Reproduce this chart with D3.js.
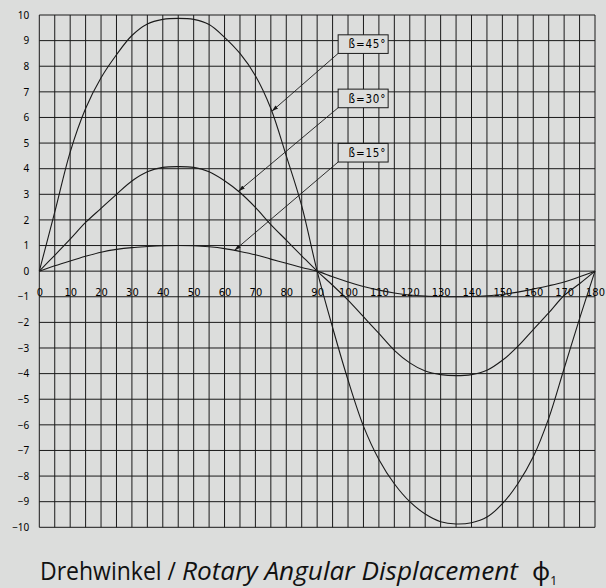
<!DOCTYPE html>
<html>
<head>
<meta charset="utf-8">
<script src="https://cdn.jsdelivr.net/npm/d3@7"></script>
<style>
  html, body { margin: 0; padding: 0; background: #dcdddc; }
  svg { display: block; }
</style>
</head>
<body>
<svg id="chart" width="606" height="588"></svg>
<script>
// Angular displacement error of a cardan joint for three bend angles ß
const angles = [0, 5, 10, 15, 20, 25, 30, 35, 40, 45, 50, 55, 60, 65, 70, 75, 80, 85, 90,
  95, 100, 105, 110, 115, 120, 125, 130, 135, 140, 145, 150, 155, 160, 165, 170, 175, 180];

const beta45 = [0, 2.3, 4.65, 6.35, 7.55, 8.45, 9.2, 9.65, 9.83, 9.87, 9.83, 9.63, 9.13, 8.5, 7.63, 6.35, 4.5, 2.55, 0,
  -2.2, -4.25, -6.05, -7.35, -8.3, -9.0, -9.48, -9.78, -9.87, -9.82, -9.6, -9.08, -8.3, -7.25, -5.75, -3.8, -1.85, 0];

const beta30 = [0, 0.62, 1.25, 1.9, 2.45, 3.0, 3.52, 3.88, 4.05, 4.08, 4.05, 3.88, 3.53, 3.07, 2.49, 1.82, 1.21, 0.6, 0,
  -0.55, -1.13, -1.78, -2.43, -3.09, -3.58, -3.9, -4.04, -4.08, -4.04, -3.87, -3.48, -2.94, -2.28, -1.63, -0.95, -0.49, 0];

const beta15 = [0, 0.21, 0.4, 0.58, 0.74, 0.85, 0.92, 0.96, 0.99, 1.0, 0.99, 0.95, 0.88, 0.77, 0.64, 0.47, 0.31, 0.14, 0,
  -0.22, -0.42, -0.6, -0.74, -0.85, -0.93, -0.97, -0.99, -1.0, -0.99, -0.96, -0.91, -0.82, -0.7, -0.57, -0.42, -0.22, 0];

const seriesNames = ["ß=45°", "ß=30°", "ß=15°"];
const seriesValues = [beta45, beta30, beta15];
// where each leader arrow meets its curve (angle) and where its label box sits (angle, value of box bottom)
const arrowAngles = [75.3, 64.5, 63.2];
const boxAngle = 96.8;
const boxValues = [8.5, 6.38, 4.26];

const xTicks = d3.range(0, 181, 10);
const yTicks = d3.range(-10, 11, 1);

const bg = "#dcdddc";
const ink = "#1a1a1a";

const svg = d3.select("#chart");
svg.append("rect").attr("width", 606).attr("height", 588).attr("fill", bg);

const x = d3.scaleLinear().domain([0, 180]).range([39.3, 595]);
const y = d3.scaleLinear().domain([-10, 10]).range([527.3, 15]);

// grid: every 5° vertically, every unit horizontally
const grid = svg.append("g").attr("stroke", ink).attr("stroke-width", 1);
grid.selectAll("line.v").data(d3.range(0, 181, 5)).join("line")
  .attr("class", "v")
  .attr("x1", d => x(d)).attr("x2", d => x(d))
  .attr("y1", y(10)).attr("y2", y(-10));
grid.selectAll("line.h").data(yTicks).join("line")
  .attr("class", "h")
  .attr("x1", x(0)).attr("x2", x(180))
  .attr("y1", d => y(d)).attr("y2", d => y(d));

// y-axis labels
const yAxis = d3.axisLeft(y).tickValues(yTicks).tickSize(0).tickPadding(10)
  .tickFormat(d => d < 0 ? "\u2212" + Math.abs(d) : String(d));
svg.append("g").attr("transform", `translate(${x(0)},0)`).call(yAxis)
  .call(g => g.select(".domain").remove())
  .call(g => g.selectAll("text")
    .attr("font-family", "'Noto Sans', 'Open Sans', sans-serif")
    .attr("font-size", 10).attr("fill", "#000"));

// x-axis labels sit just below the zero line
const xAxis = d3.axisBottom(x).tickValues(xTicks).tickSize(0).tickPadding(0).tickFormat(d3.format("d"));
svg.append("g").attr("transform", `translate(0,${y(0)})`).call(xAxis)
  .call(g => g.select(".domain").remove())
  .call(g => g.selectAll("text")
    .attr("dy", null).attr("y", 24.5)
    .attr("font-family", "'DejaVu Sans Condensed', 'DejaVu Sans', sans-serif")
    .attr("font-stretch", "condensed")
    .attr("font-size", 11).attr("fill", "#000"));

// curves
const line = d3.line()
  .x((d, i) => x(angles[i]))
  .y(d => y(d))
  .curve(d3.curveCatmullRom.alpha(0.5));

svg.append("g").selectAll("path.curve").data(seriesValues).join("path")
  .attr("class", "curve")
  .attr("d", d => line(d))
  .attr("fill", "none")
  .attr("stroke", ink)
  .attr("stroke-width", 1.1);

// arrowhead marker
svg.append("defs").append("marker")
  .attr("id", "arrow")
  .attr("viewBox", "0 0 10 6")
  .attr("refX", 10).attr("refY", 3)
  .attr("markerWidth", 7).attr("markerHeight", 4)
  .attr("markerUnits", "userSpaceOnUse")
  .attr("orient", "auto")
  .append("path").attr("d", "M0,0 L10,3 L0,6 Z").attr("fill", ink);

function valueAt(values, a) {
  return d3.scaleLinear().domain(angles).range(values)(a);
}

// label boxes with leader arrows
const boxW = 50, boxH = 18.6;
const notes = svg.append("g");
seriesNames.forEach((name, i) => {
  const bx = x(boxAngle), by = y(boxValues[i]);
  const tx = x(arrowAngles[i]), ty = y(valueAt(seriesValues[i], arrowAngles[i]));
  notes.append("line")
    .attr("x1", bx).attr("y1", by).attr("x2", tx).attr("y2", ty)
    .attr("stroke", ink).attr("stroke-width", 0.9)
    .attr("marker-end", "url(#arrow)");
  notes.append("rect")
    .attr("x", bx).attr("y", by - boxH).attr("width", boxW).attr("height", boxH)
    .attr("fill", bg).attr("stroke", ink).attr("stroke-width", 1);
  notes.append("text")
    .attr("x", bx + boxW - 2).attr("y", by - 5)
    .attr("text-anchor", "end")
    .attr("font-family", "'DejaVu Sans Condensed', 'DejaVu Sans', sans-serif")
    .attr("font-stretch", "condensed")
    .attr("font-size", 11.5)
    .attr("letter-spacing", 0.8)
    .attr("fill", "#000")
    .text(name);
});

// axis title: German upright, English italic, then the symbol φ1
const titleFont = "'Open Sans', 'Noto Sans', sans-serif";
svg.append("text")
  .attr("x", 40).attr("y", 580)
  .attr("font-family", titleFont).attr("font-size", 25).attr("fill", "#111")
  .attr("textLength", 136).attr("lengthAdjust", "spacingAndGlyphs")
  .text("Drehwinkel /");
svg.append("text")
  .attr("x", 182).attr("y", 580)
  .attr("font-family", titleFont).attr("font-size", 25).attr("font-style", "italic").attr("fill", "#111")
  .attr("textLength", 336).attr("lengthAdjust", "spacingAndGlyphs")
  .text("Rotary Angular Displacement");
const sym = svg.append("text")
  .attr("x", 532).attr("y", 580)
  .attr("font-family", "'Noto Sans', sans-serif").attr("font-size", 25).attr("fill", "#111");
sym.append("tspan").text("φ");
sym.append("tspan").attr("dy", 4.5).attr("font-size", 12).text("1");
</script>
</body>
</html>
